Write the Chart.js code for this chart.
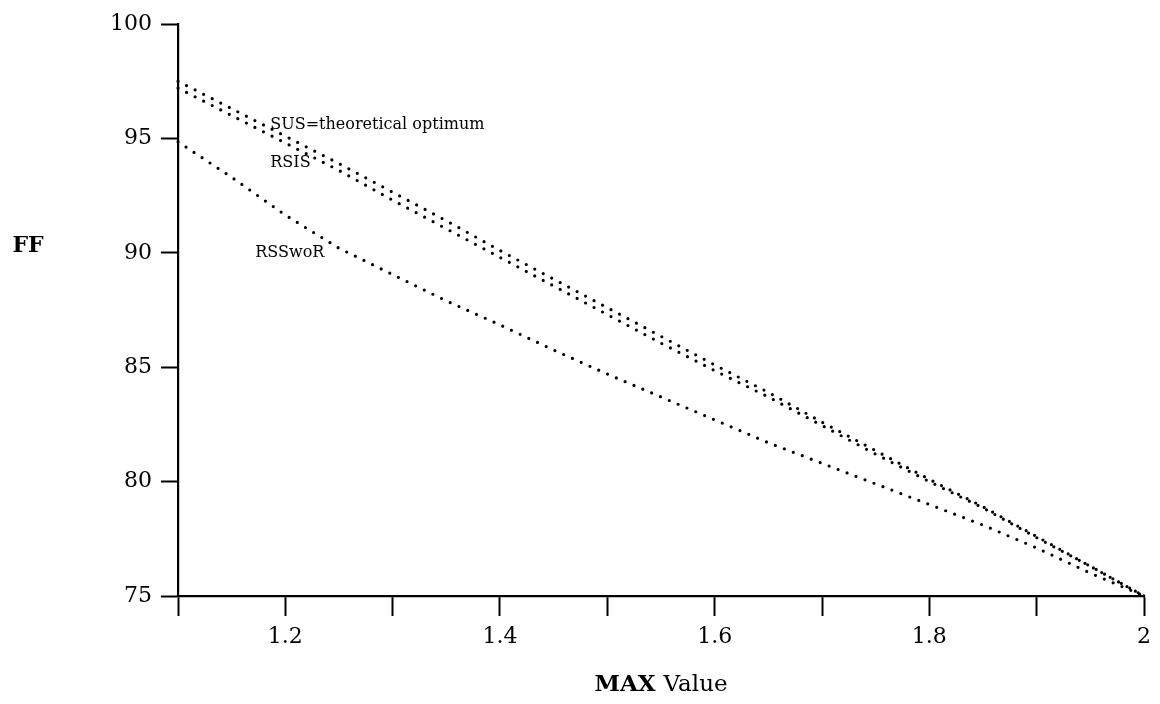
<!DOCTYPE html>
<html>
<head>
<meta charset="utf-8">
<title>FF vs MAX Value</title>
<script src="https://cdn.jsdelivr.net/npm/chart.js@4/dist/chart.umd.min.js"></script>
<style>
body { margin: 0; background: #fff; }
#wrap { width: 1160px; height: 704px; position: relative; }
</style>
</head>
<body>
<div id="wrap"><canvas id="ffCanvas"></canvas></div>
<script>
// values
var maxValues = [1.10, 1.15, 1.20, 1.25, 1.30, 1.35, 1.40, 1.45, 1.50, 1.55,
                 1.60, 1.65, 1.70, 1.75, 1.80, 1.85, 1.90, 1.95, 2.00];
var susFF    = [97.5, 96.3, 95.1, 93.9, 92.65, 91.4, 90.1, 88.85, 87.6, 86.35,
                85.1, 83.9, 82.6, 81.35, 80.1, 78.9, 77.6, 76.3, 75.0];
var rsisFF   = [97.2, 96.0, 94.8, 93.6, 92.3, 91.05, 89.8, 88.55, 87.3, 86.05,
                84.85, 83.7, 82.45, 81.2, 80.0, 78.85, 77.55, 76.3, 75.0];
var rsswoRFF = [94.85, 93.3, 91.65, 90.2, 89.05, 87.9, 86.85, 85.75, 84.7, 83.7,
                82.7, 81.7, 80.8, 79.9, 79.0, 78.1, 77.1, 76.0, 75.0];
var xTickLabels = ['1.2', '1.4', '1.6', '1.8', '2'];
var yTickLabels = ['75', '80', '85', '90', '95', '100'];

// curve names written next to the lines (anchored in data units)
var curveNames = ['SUS=theoretical optimum', 'RSIS', 'RSSwoR'];
var curveNameX = [1.186, 1.186, 1.172];
var curveNameY = [95.6, 93.95, 90.0];

var serif = '"DejaVu Serif", "Liberation Serif", serif';

function dotted(values) {
    var pts = [];
    for (var i = 0; i < maxValues.length; i++) {
        pts.push({x: maxValues[i], y: values[i]});
    }
    return {
        data: pts,
        borderColor: '#000',
        borderWidth: 3.2,
        borderDash: [0, 9.6],
        borderCapStyle: 'round',
        pointRadius: 0,
        fill: false,
        tension: 0,
        clip: 6
    };
}

var labelsPlugin = {
    id: 'labelsPlugin',
    afterDraw: function(chart) {
        var ctx = chart.ctx;
        var xs = chart.scales.x;
        var ys = chart.scales.y;
        var area = chart.chartArea;
        ctx.save();
        ctx.fillStyle = '#000';
        ctx.textBaseline = 'middle';
        ctx.textAlign = 'left';

        ctx.font = '16px ' + serif;
        for (var i = 0; i < curveNames.length; i++) {
            ctx.fillText(curveNames[i], xs.getPixelForValue(curveNameX[i]), ys.getPixelForValue(curveNameY[i]));
        }

        // x title: "MAX" bold, "Value" roman
        var boldFont = 'bold 23px ' + serif;
        var romanFont = '23px ' + serif;
        ctx.font = boldFont;
        var w1 = ctx.measureText('MAX ').width;
        ctx.font = romanFont;
        var w2 = ctx.measureText('Value').width;
        var left = (area.left + area.right) / 2 - (w1 + w2) / 2;
        var ty = area.bottom + 89;
        ctx.font = boldFont;
        ctx.fillText('MAX ', left, ty);
        ctx.font = romanFont;
        ctx.fillText('Value', left + w1, ty);

        // y title sits level, left of the tick labels
        ctx.font = 'bold 22px ' + serif;
        ctx.textAlign = 'center';
        ctx.fillText('FF', 28, ys.getPixelForValue(90) - 7);
        ctx.restore();
    }
};

var ctx = document.getElementById('ffCanvas');
var ffChart = new Chart(ctx, {
    type: 'line',
    data: {
        datasets: [dotted(susFF), dotted(rsisFF), dotted(rsswoRFF)]
    },
    options: {
        responsive: true,
        maintainAspectRatio: false,
        animation: false,
        events: [],
        layout: { padding: { top: 24, right: 16, left: 0, bottom: 0 } },
        plugins: {
            legend: { display: false },
            tooltip: { enabled: false }
        },
        scales: {
            x: {
                type: 'linear',
                min: 1.1,
                max: 2.0,
                afterFit: function(scale) { scale.height = 108; },
                afterBuildTicks: function(scale) {
                    var t = [];
                    for (var i = 11; i <= 20; i++) {
                        t.push({value: i / 10});
                    }
                    scale.ticks = t;
                },
                ticks: {
                    color: '#000',
                    font: { family: serif, size: 22 },
                    padding: 8,
                    maxRotation: 0,
                    autoSkip: false,
                    callback: function(v) {
                        var s = String(Math.round(v * 10) / 10);
                        return xTickLabels.indexOf(s) >= 0 ? s : '';
                    }
                },
                grid: {
                    drawOnChartArea: false,
                    drawTicks: true,
                    tickLength: 20,
                    tickWidth: 2,
                    tickColor: '#000'
                },
                border: { display: true, color: '#000', width: 2.2 }
            },
            y: {
                min: 75,
                max: 100,
                afterFit: function(scale) { scale.width = 178; },
                ticks: {
                    stepSize: 5,
                    color: '#000',
                    font: { family: serif, size: 22 },
                    padding: 9,
                    callback: function(v) {
                        var s = String(v);
                        return yTickLabels.indexOf(s) >= 0 ? s : '';
                    }
                },
                grid: {
                    drawOnChartArea: false,
                    drawTicks: true,
                    tickLength: 17,
                    tickWidth: 2,
                    tickColor: '#000'
                },
                border: { display: true, color: '#000', width: 2.2 }
            }
        }
    },
    plugins: [labelsPlugin]
});
</script>
</body>
</html>
